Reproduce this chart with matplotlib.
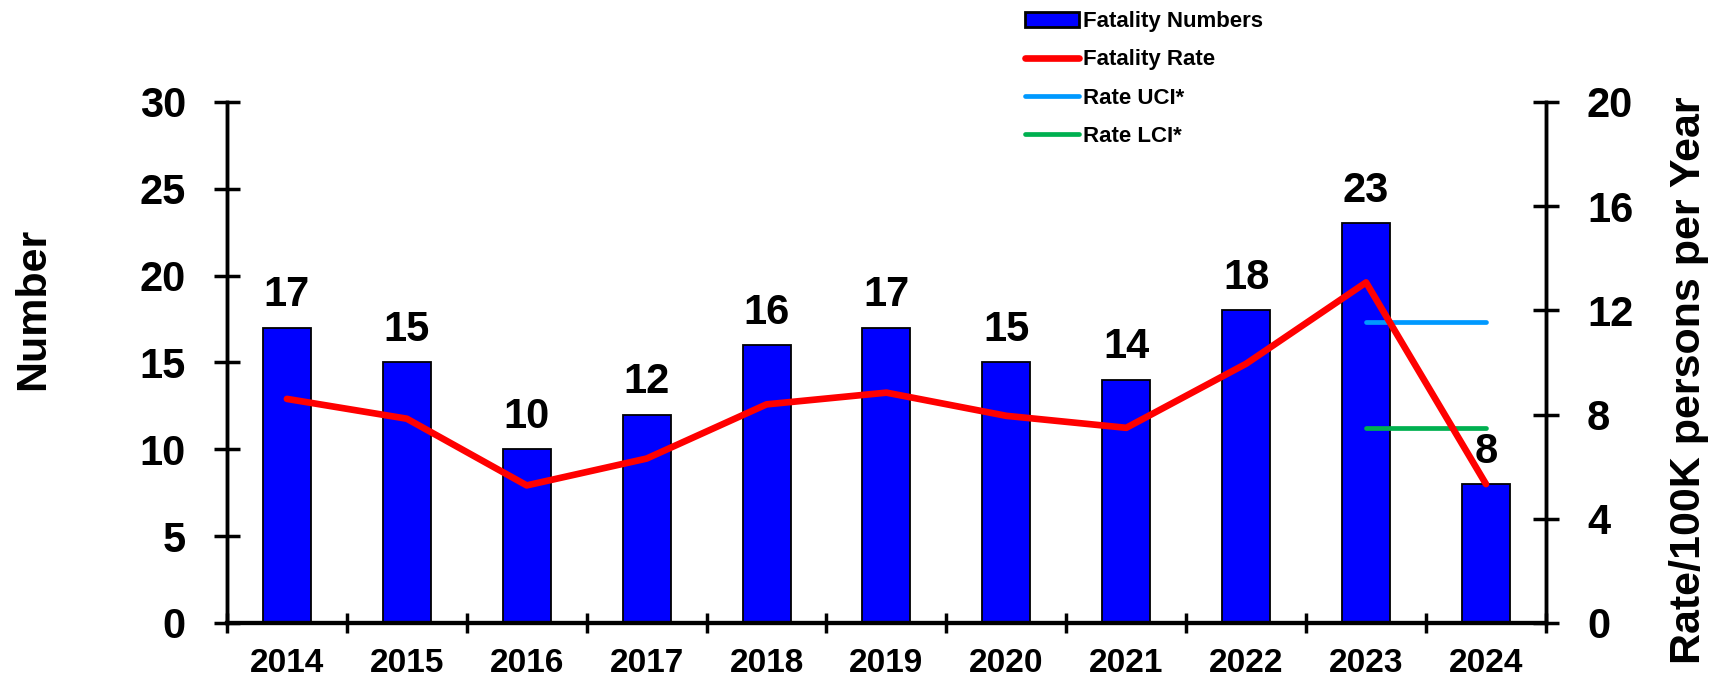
import matplotlib
matplotlib.use("Agg")
import matplotlib.pyplot as plt
import numpy as np

plt.rcParams['font.family'] = ['Liberation Sans', 'DejaVu Sans']
plt.rcParams['font.weight'] = 'bold'

years = ["2014", "2015", "2016", "2017", "2018", "2019", "2020", "2021", "2022", "2023", "2024"]
fatalities = [17, 15, 10, 12, 16, 17, 15, 14, 18, 23, 8]
rate = [8.6, 7.84, 5.28, 6.31, 8.39, 8.84, 7.95, 7.49, 9.95, 13.07, 5.33]
# CI lines drawn from 2023 to 2024
ci_years = ["2023", "2024"]
rate_uci = [11.55, 11.55]
rate_lci = [7.5, 7.5]

fig = plt.figure(figsize=(17.31, 6.79), dpi=100)
ax = fig.add_axes([0.1311, 0.0825, 0.762, 0.7675])
ax2 = ax.twinx()

x = np.arange(len(years))
bars = ax.bar(x, fatalities, width=0.4, color='#0000FF', edgecolor='black',
              linewidth=1.3, label='Fatality Numbers', zorder=2)
for xi, v in zip(x, fatalities):
    ax.annotate(str(v), (xi, v), xytext=(0, 9), textcoords='offset points',
                ha='center', va='bottom', fontsize=30, fontweight='bold')

ax.set_xlim(-0.5, len(years) - 0.5)
ax.set_ylim(0, 30)
ax.set_yticks(range(0, 31, 5))
ax.set_xticks(x)
ax.set_xticklabels(years)
ax.set_xticks(np.arange(-0.5, len(years), 1), minor=True)
ax.tick_params(axis='x', which='major', length=0, labelsize=24, pad=18)
ax.tick_params(axis='x', which='minor', direction='inout', length=15, width=2.5)
ax.tick_params(axis='y', direction='inout', length=19, width=2.5, labelsize=30, pad=20)

xi_ci = [years.index(y) for y in ci_years]
l1, = ax2.plot(x, rate, color='#FF0000', linewidth=4.8, solid_capstyle='round',
               solid_joinstyle='round', label='Fatality Rate', zorder=3)
l2, = ax2.plot(xi_ci, rate_uci, color='#0099FF', linewidth=3.4, solid_capstyle='round',
               label='Rate UCI*')
l3, = ax2.plot(xi_ci, rate_lci, color='#00B050', linewidth=3.4, solid_capstyle='round',
               label='Rate LCI*')
ax2.set_ylim(0, 20)
ax2.set_yticks(range(0, 21, 4))
ax2.tick_params(axis='y', direction='inout', length=19, width=2.5, labelsize=30, pad=20)

for a in (ax, ax2):
    a.spines['top'].set_visible(False)
    for s in ('left', 'right'):
        a.spines[s].set_linewidth(2.5)
    a.spines['bottom'].set_linewidth(3)

fig.text(0.019, 0.545, "Number", rotation=90, ha='center', va='center',
         fontsize=31, fontweight='bold')
fig.text(0.9755, 0.44, "Rate/100K persons per Year", rotation=90, ha='center',
         va='center', fontsize=31, fontweight='bold')

leg = fig.legend(handles=[bars, l1, l2, l3], loc='upper left', bbox_to_anchor=(0.586, 1.0),
                 frameon=False, handlelength=2.4, handletextpad=0.2,
                 labelspacing=0.78, borderpad=0.0, prop={'weight': 'bold', 'size': 16})
leg.legend_handles[0].set_linewidth(2)

fig.savefig("out.png", dpi=100)
